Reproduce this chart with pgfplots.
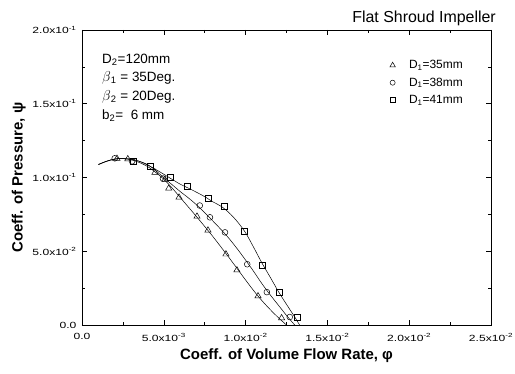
\documentclass[border=0pt]{standalone}
\usepackage{fontspec}
\setmainfont{Liberation Sans}
\newfontfamily\tickfont[FakeStretch=1.35]{Liberation Sans}
\usepackage{pgfplots}
\pgfplotsset{compat=1.18}
\begin{document}
\begin{tikzpicture}
\begin{axis}[
 scale only axis, width=409bp, height=295bp,
 xmin=0, xmax=0.025, ymin=0, ymax=0.2,
 xtick={0,0.005,0.01,0.015,0.02,0.025},
 xticklabels={0.0, 5.0x10\textsuperscript{-3}, 1.0x10\textsuperscript{-2}, 1.5x10\textsuperscript{-2}, 2.0x10\textsuperscript{-2}, 2.5x10\textsuperscript{-2}},
 ytick={0,0.05,0.1,0.15,0.2},
 yticklabels={0.0, 5.0x10\textsuperscript{-2}, 1.0x10\textsuperscript{-1}, 1.5x10\textsuperscript{-1}, 2.0x10\textsuperscript{-1}},
 minor x tick num=1, minor y tick num=1,
 tick align=inside,
 major tick length=5bp, minor tick length=3bp,
 tick style={black, line width=0.6pt},
 axis line style={line width=0.8pt},
 scaled x ticks=false, scaled y ticks=false,
 tick label style={font=\tickfont\fontsize{9}{10}\selectfont},
 xticklabel style={yshift=-5bp},
 yticklabel style={xshift=-2bp},
 xlabel={Coeff. of Volume Flow Rate, φ},
 ylabel={Coeff. of Pressure, ψ},
 label style={font=\fontsize{15}{17}\selectfont\bfseries},
 legend cell align=left,
 legend style={draw=none, fill=none, at={(rel axis cs:0.745,0.911)}, anchor=north west, font=\fontsize{12}{14}\selectfont, row sep=3.5bp},
 legend image code/.code={\draw[#1,every mark/.append style={scale=0.88}] plot coordinates {(0cm,0cm)}; \path (0.5cm,0cm);},
]
% fitted curves
\addplot[black, line width=0.5pt, smooth, forget plot] table {
x y
0.0010 0.1088
0.0015 0.1110
0.0020 0.1125
0.0025 0.1128
0.0030 0.1120
0.0035 0.1102
0.0040 0.1075
0.0045 0.1035
0.0050 0.0988
0.0055 0.0930
0.0060 0.0865
0.0065 0.0800
0.0070 0.0735
0.0075 0.0668
0.0080 0.0600
0.0085 0.0528
0.0090 0.0455
0.0095 0.0380
0.0100 0.0305
0.0105 0.0232
0.0110 0.0165
0.0115 0.0105
0.0120 0.0050
0.0125 0.0000
};
\addplot[black, line width=0.5pt, smooth, forget plot] table {
x y
0.0010 0.1088
0.0015 0.1110
0.0020 0.1125
0.0025 0.1128
0.0030 0.1124
0.0035 0.1110
0.0040 0.1088
0.0045 0.1048
0.0050 0.0998
0.0055 0.0952
0.0060 0.0905
0.0065 0.0862
0.0070 0.0815
0.0075 0.0762
0.0080 0.0705
0.0085 0.0647
0.0090 0.0585
0.0095 0.0515
0.0100 0.0440
0.0105 0.0362
0.0110 0.0280
0.0115 0.0205
0.0120 0.0135
0.0125 0.0065
0.0130 0.0000
};
\addplot[black, line width=0.5pt, smooth, forget plot] table {
x y
0.0010 0.1088
0.0015 0.1110
0.0020 0.1125
0.0025 0.1128
0.0030 0.1124
0.0035 0.1110
0.0040 0.1085
0.0045 0.1055
0.0050 0.1022
0.0055 0.0988
0.0060 0.0955
0.0065 0.0928
0.0070 0.0900
0.0075 0.0870
0.0080 0.0835
0.0085 0.0805
0.0090 0.0760
0.0095 0.0700
0.0100 0.0625
0.0105 0.0525
0.0110 0.0420
0.0115 0.0325
0.0120 0.0228
0.0125 0.0140
0.0130 0.0055
0.0133 0.0000
};
% measured points
\addplot[only marks, black, mark=triangle, mark size=3.6bp, mark options={line width=0.5pt}] table {
x y
0.00214 0.1128
0.00280 0.1125
0.00446 0.1034
0.00507 0.0986
0.00530 0.0926
0.00593 0.0865
0.00703 0.0736
0.00770 0.0642
0.00880 0.0480
0.00947 0.0372
0.01076 0.0196
0.01220 0.0047
};
\addlegendentry{D\textsubscript{1}=35mm}
\addplot[only marks, black, mark=o, mark size=2.9bp, mark options={line width=0.5pt}] table {
x y
0.00200 0.1130
0.00306 0.1110
0.00495 0.0993
0.00720 0.0810
0.00782 0.0730
0.00874 0.0628
0.01010 0.0412
0.01130 0.0223
0.01270 0.0054
};
\addlegendentry{D\textsubscript{1}=38mm}
\addplot[only marks, black, mark=square, mark size=2.9bp, mark options={line width=0.5pt}] table {
x y
0.00312 0.1110
0.00416 0.1074
0.00538 0.1000
0.00642 0.0940
0.00770 0.0858
0.00868 0.0804
0.00990 0.0635
0.01100 0.0405
0.01204 0.0223
0.01314 0.0054
};
\addlegendentry{D\textsubscript{1}=41mm}
\node[anchor=north west, align=left, inner sep=0pt, font=\fontsize{13.5}{18.7}\selectfont] at (rel axis cs:0.049,0.92)
 {D\textsubscript{2}=120mm\\ $\beta$\textsubscript{1} = 35Deg.\\ $\beta$\textsubscript{2} = 20Deg.\\ b\textsubscript{2}=\ \ 6 mm};
\end{axis}
\node[anchor=base east, inner sep=0pt, font=\fontsize{16}{18}\selectfont] at ([xshift=5bp,yshift=7bp]current axis.north east) {Flat Shroud Impeller};
\pgfresetboundingbox
\path[use as bounding box] ([xshift=-82bp,yshift=-49bp]current axis.south west) rectangle ([xshift=24bp,yshift=30bp]current axis.north east);
\end{tikzpicture}
\end{document}
